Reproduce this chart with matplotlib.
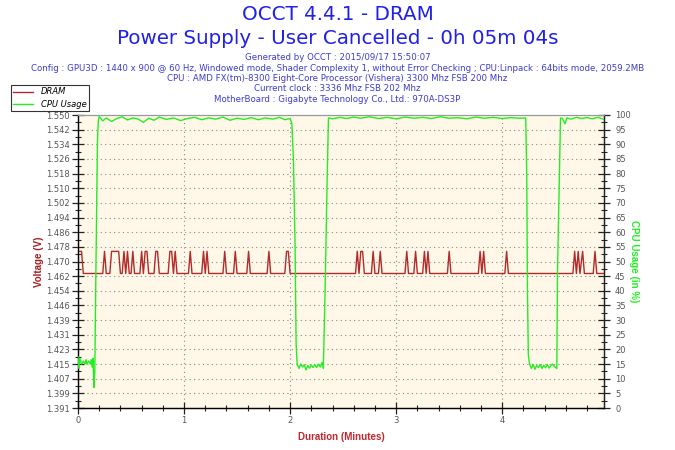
import matplotlib
matplotlib.use("Agg")
import matplotlib.pyplot as plt
from matplotlib.ticker import FixedLocator, MultipleLocator
from matplotlib.lines import Line2D

# ---------------- data ----------------
title_lines = ["OCCT 4.4.1 - DRAM", "Power Supply - User Cancelled - 0h 05m 04s"]
info_lines = [
    "Generated by OCCT : 2015/09/17 15:50:07",
    "Config : GPU3D : 1440 x 900 @ 60 Hz, Windowed mode, Shader Complexity 1, without Error Checking ; CPU:Linpack : 64bits mode, 2059.2MB",
    "CPU : AMD FX(tm)-8300 Eight-Core Processor (Vishera) 3300 Mhz FSB 200 Mhz",
    "Current clock : 3336 Mhz FSB 202 Mhz",
    "MotherBoard : Gigabyte Technology Co., Ltd.: 970A-DS3P",
]

volt_tick_labels = ["1.391", "1.399", "1.407", "1.415", "1.423", "1.431", "1.439",
                    "1.446", "1.454", "1.462", "1.470", "1.478", "1.486", "1.494",
                    "1.502", "1.510", "1.518", "1.526", "1.534", "1.542", "1.550"]
volt_min, volt_max = 1.391, 1.550
x_max_min = 4.96

# DRAM voltage (time in seconds, volts)
dram_t = [0, 2, 3,
          14, 15, 16,
          18, 19, 23, 24,
          25, 26, 27, 28, 29,
          30, 31, 32,
          35, 36, 37, 38, 39, 40,
          43, 44, 45, 46,
          51, 52, 53, 54, 55, 56,
          62.5, 63.5, 64.5,
          70, 71, 72, 73, 74, 75,
          82, 83, 84,
          88, 89, 90,
          95.5, 96.5, 97.5,
          107, 108, 109,
          117, 118, 119, 120,
          157, 158, 159, 160, 161, 162,
          166, 167, 168,
          170, 171, 172,
          185, 186, 187,
          190, 191, 192,
          195, 196, 197, 198, 199,
          209, 210, 211,
          226.5, 227.5, 228.5, 229.5, 230.5,
          241.5, 242.5, 243.5,
          280, 281, 282, 283, 284, 285.5, 286.5,
          291.5, 292.5, 293.5,
          297.6]
dram_v = [1.476, 1.476, 1.464,
          1.464, 1.476, 1.464,
          1.464, 1.476, 1.476, 1.464,
          1.464, 1.476, 1.464, 1.476, 1.464,
          1.464, 1.476, 1.464,
          1.464, 1.476, 1.464, 1.476, 1.476, 1.464,
          1.464, 1.476, 1.476, 1.464,
          1.464, 1.476, 1.476, 1.464, 1.476, 1.464,
          1.464, 1.476, 1.464,
          1.464, 1.476, 1.464, 1.476, 1.464, 1.464,
          1.464, 1.476, 1.464,
          1.464, 1.476, 1.464,
          1.464, 1.476, 1.464,
          1.464, 1.476, 1.464,
          1.464, 1.476, 1.476, 1.464,
          1.464, 1.476, 1.464, 1.476, 1.476, 1.464,
          1.464, 1.476, 1.464,
          1.464, 1.476, 1.464,
          1.464, 1.476, 1.464,
          1.464, 1.476, 1.464,
          1.464, 1.476, 1.464, 1.476, 1.464,
          1.464, 1.476, 1.464,
          1.464, 1.476, 1.464, 1.476, 1.464,
          1.464, 1.476, 1.464,
          1.464, 1.476, 1.464, 1.476, 1.464, 1.476, 1.464,
          1.464, 1.476, 1.464,
          1.464]

# CPU usage (time in seconds, percent)
cpu_t = [0, 0.5, 1, 2, 3, 4, 4.5, 5, 6, 7, 7.5, 8, 8.5, 9, 9.5,
         10, 10.5, 11, 11.5, 12, 14, 16, 19, 22, 25, 28, 31, 34, 37, 40, 43,
         46, 50, 54, 58, 62, 66, 70, 74, 78, 82, 86, 90, 94, 98, 102, 106,
         110, 114, 117, 120,
         121, 121.9, 122.8, 123.4, 124, 125, 126, 127, 128, 129, 130, 131,
         132, 133, 134, 135, 136, 137, 138, 138.8,
         139.8, 141, 141.7, 144, 148, 152, 156, 160, 165, 170, 175, 180,
         185, 190, 195, 200, 205, 210, 215, 220, 225, 230, 235, 240, 245,
         250, 253.3,
         253.9, 254.3, 254.8, 255.5, 256.5, 257.5, 258.5, 259.5, 260.5,
         261.5, 262.5, 263.5, 264.5, 265.5, 266.5, 267.5, 268.5, 269.5,
         270.9, 271.3, 272.2, 273, 274, 275.6, 276.5, 279, 282, 285, 288,
         291, 294, 297.6]
cpu_v = [17.5, 13.5, 17, 15, 16, 15, 16.5, 15, 16, 15, 16.5, 14, 17, 7, 12,
         40, 64, 91, 98, 99.5, 98, 99, 97.8, 98.8, 99.4, 98.3, 99, 98.6, 97.5, 98.9, 98.2,
         99.3, 98.5, 99, 98.1, 98.8, 99.2, 98.4, 99, 98.6, 99.3, 98.2, 98.9, 98.5, 99.1, 98.4, 99,
         98.6, 99.2, 98.4, 98.8,
         97, 84.6, 56, 22, 15, 13.5, 15, 14, 14.8, 13, 14.5, 13.6, 14.7,
         13.8, 14.8, 13.8, 15, 14, 15.5, 13.5,
         40, 79, 99, 98.7, 99.2, 98.8, 99.3, 98.9, 99.4, 98.8, 99.2, 98.7,
         99.3, 98.9, 99.2, 98.8, 99.4, 98.9, 99.1, 98.7, 99.3, 98.9, 99.2, 98.8, 99.1,
         98.9, 99,
         79, 39, 18, 15, 13.5, 14.8, 13.2, 14.5, 13.8, 14.9, 13.5, 14.6,
         13.7, 14.9, 13.6, 14.4, 15, 14.2,
         13.5, 47, 75.5, 99, 98.8, 97, 99, 98.6, 99.2, 98.8, 99.1,
         98.7, 99.2, 98.5]

# ---------------- styling ----------------
dram_color = "#B22B2B"
cpu_color = "#22EE22"
tick_color = "#555555"
title_color = "#2020E6"
info_color = "#3C3CCF"
bg_color = "#FFF8E8"

fig = plt.figure(figsize=(6.75, 4.5), dpi=100)
fig.patch.set_facecolor("white")

ax = fig.add_axes([78 / 675, 42 / 450, 526 / 675, 293 / 450])
ax.set_facecolor(bg_color)

dram_x = [t / 60.0 for t in dram_t]
cpu_x = [t / 60.0 for t in cpu_t]

ax.plot(dram_x, dram_v, color=dram_color, lw=1.0, zorder=3)
ax.set_xlim(0, x_max_min)
ax.set_ylim(volt_min, volt_max)

volt_ticks = [volt_min + i * (volt_max - volt_min) / 20 for i in range(21)]
ax.yaxis.set_major_locator(FixedLocator(volt_ticks))
ax.set_yticklabels(volt_tick_labels)
minor_v = [volt_min + (i + 0.5) * (volt_max - volt_min) / 20 for i in range(20)]
ax.yaxis.set_minor_locator(FixedLocator(minor_v))
ax.xaxis.set_major_locator(MultipleLocator(1))
ax.xaxis.set_minor_locator(MultipleLocator(0.2))

ax.tick_params(axis="both", which="major", direction="inout", length=8, width=0.9,
               colors="#222222", labelcolor=tick_color, labelsize=6, pad=2)
ax.tick_params(axis="both", which="minor", direction="inout", length=5, width=0.8,
               colors="#222222")

# grid
for v in volt_ticks[1:-1]:
    ax.axhline(v, color="#888888", lw=0.8, ls=(0, (1, 3)), zorder=1)
for m in [1, 2, 3, 4]:
    ax.axvline(m, color="#888888", lw=0.8, ls=(0, (1, 3)), zorder=1)

for s in ["left", "bottom", "right"]:
    ax.spines[s].set_color("#222222")
    ax.spines[s].set_linewidth(1.0)
ax.spines["top"].set_color("#999999")

ax2 = ax.twinx()
ax2.plot(cpu_x, cpu_v, color=cpu_color, lw=1.0, zorder=4)
ax2.set_ylim(0, 100)
ax2.set_xlim(0, x_max_min)
ax2.yaxis.set_major_locator(MultipleLocator(5))
ax2.yaxis.set_minor_locator(MultipleLocator(2.5))
ax2.tick_params(axis="y", which="major", direction="inout", length=8, width=0.9,
                colors="#222222", labelcolor=tick_color, labelsize=6, pad=4)
ax2.tick_params(axis="y", which="minor", direction="inout", length=5, width=0.8,
                colors="#222222")
ax2.spines["right"].set_color("#222222")
ax2.spines["top"].set_color("#999999")

ax.set_xlabel("Duration (Minutes)", color="#C0282D", fontsize=7, fontweight="bold",
              family="Liberation Sans", labelpad=5)
ax.set_ylabel("Voltage (V)", color="#A02020", fontsize=7, fontweight="bold",
              family="Liberation Sans", labelpad=1)
ax2.set_ylabel("CPU Usage (in %)", color="#22EE22", fontsize=7, fontweight="bold",
               family="Liberation Sans", rotation=270, labelpad=6)

# titles
fig.text(0.5, 1 - 15 / 450, title_lines[0], ha="center", va="center",
         color=title_color, fontsize=14.3)
fig.text(0.5, 1 - 38 / 450, title_lines[1], ha="center", va="center",
         color=title_color, fontsize=14.3)
for i, line in enumerate(info_lines):
    fig.text(0.5, 1 - (58 + i * 10.3) / 450, line, ha="center", va="center",
             color=info_color, fontsize=6.25)

handles = [Line2D([0], [0], color=dram_color, lw=1), Line2D([0], [0], color=cpu_color, lw=1)]
leg = fig.legend(handles, ["DRAM", "CPU Usage"], loc="upper left",
                 bbox_to_anchor=(11 / 675, 1 - 85 / 450), frameon=True, fancybox=False,
                 prop={"size": 6, "style": "italic"}, handlelength=2.3,
                 borderpad=0.3, labelspacing=0.4, handletextpad=1.0, borderaxespad=0)
leg.get_frame().set_edgecolor("black")
leg.get_frame().set_linewidth(0.8)

fig.savefig("out.png", dpi=100)
